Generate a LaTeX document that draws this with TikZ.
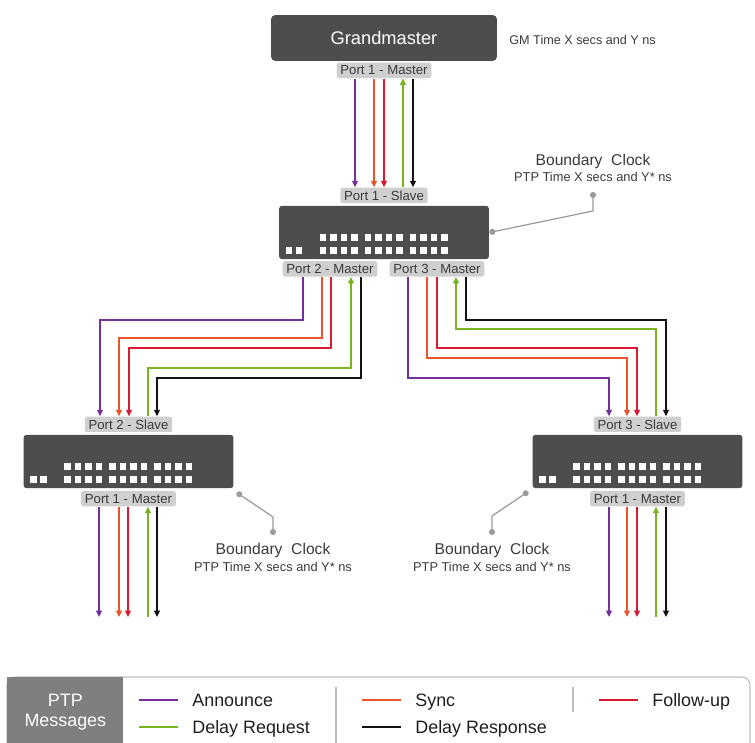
\documentclass[tikz,border=0pt]{standalone}
\usepackage{fontspec}
\setmainfont{Liberation Sans}
\usetikzlibrary{positioning, arrows.meta, calc}
\definecolor{ptpAnnounce}{HTML}{74309A}
\definecolor{ptpSync}{HTML}{E9542C}
\definecolor{ptpFollow}{HTML}{DA1A32}
\definecolor{ptpDelayReq}{HTML}{78B41E}
\definecolor{ptpDelayResp}{HTML}{111111}
\definecolor{boxGrey}{HTML}{4D4D4D}
\definecolor{portGrey}{HTML}{CFCFCF}
\definecolor{textGrey}{HTML}{3A3A3A}
\definecolor{tagGrey}{HTML}{9B9B9B}
\definecolor{legGrey}{HTML}{7F7F7F}
\definecolor{frameGrey}{HTML}{BDBDBD}
\definecolor{legText}{HTML}{1E1E1E}

\begin{document}
\begin{tikzpicture}[
		x=0.02cm, y=-0.02cm,
		gm/.style={rectangle, fill=boxGrey, rounded corners=2.5pt, minimum width=4.52cm,
			minimum height=0.92cm, text=white, font=\fontsize{10.4}{12}\selectfont},
		switch/.style={rectangle, fill=boxGrey, rounded corners=1.8pt, minimum width=4.2cm, minimum height=1.07cm},
		port/.style={rectangle, fill=portGrey, rounded corners=1.2pt, minimum height=0.31cm,
			inner xsep=2.1pt, inner ysep=0pt, text=textGrey, font=\fontsize{7.5}{9}\selectfont},
		note/.style={font=\fontsize{7.3}{9.2}\selectfont, text=textGrey, align=center, inner sep=1pt},
		tag/.style={draw=tagGrey, line width=0.7pt, {Circle[length=3.4pt]}-{Circle[length=3.4pt]}},
		arrow/.style={line width=0.65pt, -{Triangle[length=3.6pt, width=3.4pt]}},
		legtext/.style={font=\fontsize{10.2}{12}\selectfont, text=legText, anchor=base west, inner sep=0pt},
		legkey/.style={line width=1.7pt},
		divider/.style={draw=frameGrey, line width=0.6pt},
		]
		\useasboundingbox (0,0) rectangle (755,743);
		
		% Grandmaster (top)
		\node[gm] (gm) at (384,38) {Grandmaster};
		\node[port, below=0.02cm of gm] (gmport) {Port 1 - Master};
		\node[anchor=west, inner sep=0pt, text=textGrey, font=\fontsize{7.2}{9}\selectfont] (gmtime) at (509,40) {GM Time X secs and Y ns};
		
		% Boundary clock in the middle
		\node[switch] (bc1) at (384,232.5) {};
		\node[port, above=0.04cm of bc1] (bc1slave) {Port 1 - Slave};
		\node[port] (bc1p2) at (330,269) {Port 2 - Master};
		\node[port] (bc1p3) at (437,269) {Port 3 - Master};
		
		% Boundary clocks left and right
		\node[switch] (bc2) at (128.5,461.5) {};
		\node[port, above=0.04cm of bc2] (bc2slave) {Port 2 - Slave};
		\node[port, below=0.04cm of bc2] (bc2p1) {Port 1 - Master};
		\node[switch] (bc3) at (637.5,461.5) {};
		\node[port, above=0.04cm of bc3] (bc3slave) {Port 3 - Slave};
		\node[port, below=0.04cm of bc3] (bc3p1) {Port 1 - Master};
		
		% port squares on the switches
		\foreach \sw in {bc1, bc2, bc3} {
			\foreach \g in {0,1,2}
			\foreach \i in {0,...,3}
			\foreach \r in {29,42}
			\fill[white] ($(\sw.north west)+(41+45*\g+10.5*\i,\r)$) rectangle ++(6.5,6.5);
			\fill[white] ($(\sw.north west)+(7,42)$) rectangle ++(6.5,6.5);
			\fill[white] ($(\sw.north west)+(17,42)$) rectangle ++(6.5,6.5);
		}
		
		% Grandmaster to middle clock
		\draw[arrow, ptpAnnounce] (355,0 |- gmport.south) -- (355,0 |- bc1slave.north);
		\draw[arrow, ptpSync] (374,0 |- gmport.south) -- (374,0 |- bc1slave.north);
		\draw[arrow, ptpFollow] (384,0 |- gmport.south) -- (384,0 |- bc1slave.north);
		\draw[arrow, ptpDelayReq] (403,0 |- bc1slave.north) -- (403,0 |- gmport.south);
		\draw[arrow, ptpDelayResp] (413,0 |- gmport.south) -- (413,0 |- bc1slave.north);
		
		% Port 2 to left clock
		\draw[arrow, ptpAnnounce] (303,0 |- bc1p2.south) |- (100,320) -- (100,0 |- bc2slave.north);
		\draw[arrow, ptpSync] (322,0 |- bc1p2.south) |- (119,338) -- (119,0 |- bc2slave.north);
		\draw[arrow, ptpFollow] (331,0 |- bc1p2.south) |- (129,348) -- (129,0 |- bc2slave.north);
		\draw[arrow, ptpDelayReq] (148,0 |- bc2slave.north) |- (351,368) -- (351,0 |- bc1p2.south);
		\draw[arrow, ptpDelayResp] (361,0 |- bc1p2.south) |- (157,378) -- (157,0 |- bc2slave.north);
		
		% Port 3 to right clock
		\draw[arrow, ptpAnnounce] (408,0 |- bc1p3.south) |- (609,378) -- (609,0 |- bc3slave.north);
		\draw[arrow, ptpSync] (427,0 |- bc1p3.south) |- (627,358) -- (627,0 |- bc3slave.north);
		\draw[arrow, ptpFollow] (437,0 |- bc1p3.south) |- (637,348) -- (637,0 |- bc3slave.north);
		\draw[arrow, ptpDelayReq] (656,0 |- bc3slave.north) |- (456,329) -- (456,0 |- bc1p3.south);
		\draw[arrow, ptpDelayResp] (466,0 |- bc1p3.south) |- (666,320) -- (666,0 |- bc3slave.north);
		
		% lines going further down
		\coordinate (lowend) at (0,617);
		\draw[arrow, ptpAnnounce] (99,0 |- bc2p1.south) -- (99,0 |- lowend);
		\draw[arrow, ptpSync] (119,0 |- bc2p1.south) -- (119,0 |- lowend);
		\draw[arrow, ptpFollow] (128,0 |- bc2p1.south) -- (128,0 |- lowend);
		\draw[arrow, ptpDelayReq] (148,0 |- lowend) -- (148,0 |- bc2p1.south);
		\draw[arrow, ptpDelayResp] (157,0 |- bc2p1.south) -- (157,0 |- lowend);
		\draw[arrow, ptpAnnounce] (609,0 |- bc3p1.south) -- (609,0 |- lowend);
		\draw[arrow, ptpSync] (627,0 |- bc3p1.south) -- (627,0 |- lowend);
		\draw[arrow, ptpFollow] (637,0 |- bc3p1.south) -- (637,0 |- lowend);
		\draw[arrow, ptpDelayReq] (656,0 |- lowend) -- (656,0 |- bc3p1.south);
		\draw[arrow, ptpDelayResp] (666,0 |- bc3p1.south) -- (666,0 |- lowend);
		
		% "Boundary Clock" call-outs
		\coordinate (bc1tag) at (593,192);
		\draw[tag] (bc1.east) -- (593,211) -- (bc1tag);
		\node[note, above=0.17cm of bc1tag] (bc1note)
		{{\fontsize{8.9}{9.2}\selectfont Boundary\ \ Clock}\\PTP Time X secs and Y* ns};
		
		\coordinate (bc2tag) at (273,535);
		\draw[tag] ([shift={(3,4)}]bc2.south east) -- (273,517) -- (bc2tag);
		\node[note, below=0.13cm of bc2tag] (bc2note)
		{{\fontsize{8.9}{9.2}\selectfont Boundary\ \ Clock}\\PTP Time X secs and Y* ns};
		
		\coordinate (bc3tag) at (492,535);
		\draw[tag] ([shift={(-4,3)}]bc3.south west) -- (492,516) -- (bc3tag);
		\node[note, below=0.13cm of bc3tag] (bc3note)
		{{\fontsize{8.9}{9.2}\selectfont Boundary\ \ Clock}\\PTP Time X secs and Y* ns};
		
		% Legend
		\draw[divider, rounded corners=0.16cm] (7,750) -- (7,677) -- (750,677) -- (750,750);
		\node[fill=legGrey, anchor=north west, minimum width=2.32cm, minimum height=1.4cm, inner sep=0pt,
		align=center, text=white, font=\fontsize{10.2}{11.3}\selectfont] (legtitle) at (7,677) {PTP\\Messages};
		\node[legtext] (lgann) at (192,706.5) {Announce};
		\node[legtext] (lgdreq) at (192,733.5) {Delay Request};
		\node[legtext] (lgsync) at (415,706.5) {Sync};
		\node[legtext] (lgdresp) at (415,733.5) {Delay Response};
		\node[legtext] (lgfollow) at (652,706.5) {Follow-up};
		\draw[legkey, ptpAnnounce] ($(lgann.base west)+(-53,-6.5)$) -- ++(39,0);
		\draw[legkey, ptpDelayReq] ($(lgdreq.base west)+(-53,-6.5)$) -- ++(39,0);
		\draw[legkey, ptpSync] ($(lgsync.base west)+(-53,-6.5)$) -- ++(39,0);
		\draw[legkey, ptpDelayResp] ($(lgdresp.base west)+(-53,-6.5)$) -- ++(39,0);
		\draw[legkey, ptpFollow] ($(lgfollow.base west)+(-53,-6.5)$) -- ++(39,0);
		\draw[divider] (336,687) -- (336,745);
		\draw[divider] (573,687) -- (573,712);
	\end{tikzpicture}
\end{document}
